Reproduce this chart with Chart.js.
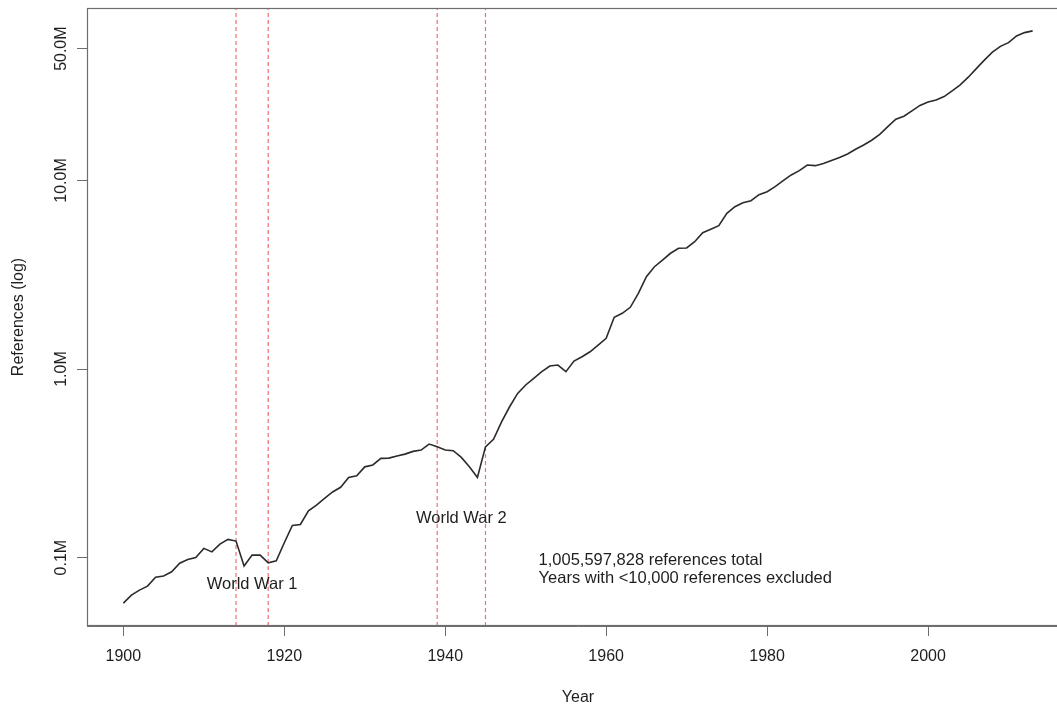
<!DOCTYPE html>
<html><head><meta charset="utf-8">
<script src="https://cdn.jsdelivr.net/npm/chart.js@4"></script>
<style>html,body{margin:0;padding:0;overflow:hidden;background:#fff}#wrap{position:absolute;left:0;top:0;width:1069px;height:706px}</style>
</head><body><div id="wrap"><canvas id="c" width="1069" height="706"></canvas></div>
<script>
const years = [1900,1901,1902,1903,1904,1905,1906,1907,1908,1909,
1910,1911,1912,1913,1914,1915,1916,1917,1918,1919,
1920,1921,1922,1923,1924,1925,1926,1927,1928,1929,
1930,1931,1932,1933,1934,1935,1936,1937,1938,1939,
1940,1941,1942,1943,1944,1945,1946,1947,1948,1949,
1950,1951,1952,1953,1954,1955,1956,1957,1958,1959,
1960,1961,1962,1963,1964,1965,1966,1967,1968,1969,
1970,1971,1972,1973,1974,1975,1976,1977,1978,1979,
1980,1981,1982,1983,1984,1985,1986,1987,1988,1989,
1990,1991,1992,1993,1994,1995,1996,1997,1998,1999,
2000,2001,2002,2003,2004,2005,2006,2007,2008,2009,
2010,2011,2012,2013];
// references per year, in millions
const references = [0.0574,0.0633,0.0673,0.0706,0.0788,0.0800,0.0841,0.0935,0.0978,0.1002,
0.112,0.1073,0.118,0.125,0.1224,0.0902,0.1031,0.1031,0.0938,0.0962,
0.120,0.148,0.150,0.177,0.190,0.206,0.223,0.236,0.266,0.272,
0.303,0.310,0.336,0.337,0.346,0.354,0.366,0.372,0.400,0.387,
0.372,0.369,0.340,0.303,0.266,0.387,0.424,0.525,0.631,0.743,
0.823,0.893,0.968,1.037,1.050,0.968,1.103,1.162,1.235,1.341,
1.455,1.881,1.975,2.125,2.521,3.088,3.489,3.786,4.111,4.369,
4.385,4.735,5.286,5.510,5.758,6.699,7.261,7.625,7.813,8.408,
8.722,9.270,9.975,10.70,11.27,12.08,11.98,12.30,12.76,13.24,
13.82,14.64,15.43,16.34,17.54,19.29,21.12,21.91,23.37,25.0,
26.09,26.73,27.84,29.85,32.11,35.28,39.18,43.43,47.87,51.4,
53.8,58.4,60.8,62.1];
const warLines = [1914, 1918, 1939, 1945];
const xTickValues = [1900, 1920, 1940, 1960, 1980, 2000];
const yTickValues = [0.1, 1, 10, 50];
const yTickLabels = ['0.1M', '1.0M', '10.0M', '50.0M'];
const warLabels = ['World War 1', 'World War 2'];
const noteLines = ['1,005,597,828 references total', 'Years with <10,000 references excluded'];

// R-style 4% axis extension
const lgLo = Math.log10(Math.min(...references)), lgHi = Math.log10(Math.max(...references));
const lgPad = 0.04 * (lgHi - lgLo);
const yMin = Math.pow(10, lgLo - lgPad), yMax = Math.pow(10, lgHi + lgPad);
const xSpan = years[years.length - 1] - years[0];
const xMin = years[0] - 0.04 * xSpan, xMax = years[years.length - 1] + 0.04 * xSpan;

const FONT = '"Liberation Sans", Arial, sans-serif';
const TXT = '#1e1e1e';
const AX = '#6e6e6e';

const warPts = [];
warLines.forEach(w => { warPts.push({x: w, y: yMin}, {x: w, y: yMax}, {x: w, y: null}); });

const datasets = [{
  data: years.map((yr, i) => ({x: yr, y: references[i]})),
  borderColor: '#2b2b2b', borderWidth: 1.6, pointRadius: 0, tension: 0
}, {
  data: warPts, spanGaps: false,
  borderColor: '#f07070', borderWidth: 1.2, borderDash: [4, 3], pointRadius: 0, tension: 0
}];

const textPlugin = {
  id: 'texts',
  afterDraw(chart) {
    const {ctx, chartArea: a, scales: {x, y}} = chart;
    ctx.save();
    ctx.strokeStyle = AX; ctx.lineWidth = 1.2;
    ctx.strokeRect(a.left + 0.5, a.top + 0.5, a.right - a.left - 1, a.bottom - a.top - 1);
    ctx.fillStyle = TXT;
    ctx.font = '16px ' + FONT;
    ctx.textAlign = 'center'; ctx.textBaseline = 'middle';
    yTickValues.forEach((v, i) => {
      ctx.save();
      ctx.translate(62, y.getPixelForValue(v));
      ctx.rotate(-Math.PI / 2);
      ctx.fillText(yTickLabels[i], 0, 0);
      ctx.restore();
    });
    ctx.font = '16.5px ' + FONT;
    ctx.fillText(warLabels[0], x.getPixelForValue(1916.0), y.getPixelForValue(0.0725));
    ctx.fillText(warLabels[1], x.getPixelForValue(1942.0), y.getPixelForValue(0.162));
    ctx.textAlign = 'left';
    ctx.fillText(noteLines[0], x.getPixelForValue(1951.6), y.getPixelForValue(0.0965));
    ctx.fillText(noteLines[1], x.getPixelForValue(1951.6), y.getPixelForValue(0.0775));
    ctx.restore();
  }
};

new Chart(document.getElementById('c'), {
  type: 'line',
  data: {datasets},
  options: {
    responsive: false, animation: false,
    layout: {padding: {top: 8, left: 0, right: 0, bottom: 0}},
    plugins: {legend: {display: false}, tooltip: {enabled: false}},
    scales: {
      x: {
        type: 'linear', min: xMin, max: xMax,
        afterBuildTicks: s => { s.ticks = xTickValues.map(v => ({value: v})); },
        afterFit: s => { s.height = 80; },
        ticks: {color: TXT, font: {family: FONT, size: 16}, padding: 11, callback: v => String(v), maxRotation: 0},
        grid: {drawOnChartArea: false, drawTicks: true, tickLength: 10, color: AX},
        border: {color: AX},
        title: {display: true, text: 'Year', color: TXT, font: {family: FONT, size: 16, lineHeight: 1}, padding: 0}
      },
      y: {
        type: 'logarithmic', min: yMin, max: yMax,
        afterBuildTicks: s => { s.ticks = yTickValues.map(v => ({value: v})); },
        afterFit: s => { s.width = 87; },
        ticks: {display: false},
        grid: {drawOnChartArea: false, drawTicks: true, tickLength: 10, color: AX},
        border: {color: AX},
        title: {display: true, text: 'References (log)', color: TXT, font: {family: FONT, size: 16}, padding: {top: 9, bottom: 0}}
      }
    }
  },
  plugins: [textPlugin]
});
</script></body></html>
